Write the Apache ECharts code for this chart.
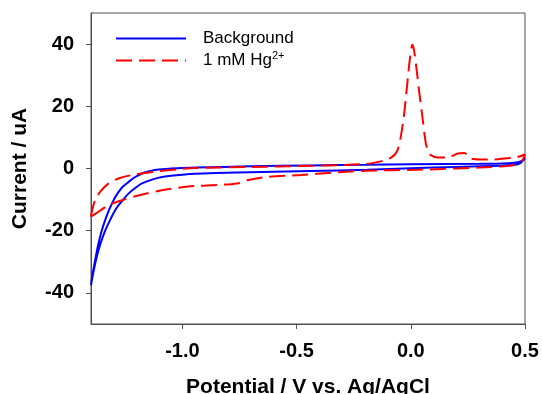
<!DOCTYPE html>
<html>
<head>
<meta charset="utf-8">
<script src="https://cdn.jsdelivr.net/npm/echarts@6/dist/echarts.min.js"></script>
<style>
  html, body { margin: 0; padding: 0; background: #fff; }
  #cv-chart { width: 542px; height: 394px; }
</style>
</head>
<body>
<div id="cv-chart"></div>
<script>
const BLUE = '#0000ff';
const RED = '#ff0000';
const AXIS_GREY = '#505050';
const FONT = '"Liberation Sans", Arial, sans-serif';

// potential (V) / current (uA)
// background: upper branch from 0.5 down to -1.4, then lower branch back
const bgPotential = [
  0.5, 0.49, 0.47, 0.43, 0.3, 0.0, -0.2, -0.44, -0.7, -0.94, -1.02, -1.104, -1.14, -1.177,
  -1.21, -1.235, -1.26, -1.279, -1.295, -1.308, -1.325, -1.34, -1.355, -1.37, -1.383, -1.393, -1.4,
  -1.39, -1.375, -1.36, -1.338, -1.316, -1.295, -1.279, -1.257, -1.235, -1.205, -1.177, -1.13,
  -1.089, -1.0, -0.943, -0.76, -0.44, -0.19, 0.0, 0.2, 0.4, 0.45, 0.48, 0.5
];
const bgCurrent = [
  3.3, 2.6, 2.0, 1.7, 1.5, 1.4, 1.2, 1.0, 0.7, 0.3, 0.1, -0.3, -0.8, -1.6,
  -2.9, -4.3, -5.8, -7.5, -9.3, -11.2, -14, -17, -20.5, -25, -30, -34, -37.5,
  -33.5, -28.5, -24.5, -20, -16.5, -13.5, -11.8, -9.8, -8.0, -6.2, -4.8, -3.5,
  -2.7, -2.0, -1.7, -1.3, -0.8, -0.4, 0.1, 0.5, 0.9, 1.1, 1.7, 3.3
];

// 1 mM Hg2+: anodic branch with the stripping peak, then back along the cathodic branch
const hgPotential = [
  -1.4, -1.393, -1.382, -1.36, -1.323, -1.28, -1.22, -1.13, -1.0, -0.94, -0.7, -0.48, -0.3,
  -0.19, -0.15, -0.117, -0.088, -0.07, -0.058, -0.044, -0.029, -0.014, -0.003, 0.007, 0.0145,
  0.026, 0.036, 0.051, 0.066, 0.077, 0.088, 0.117, 0.161, 0.205, 0.234, 0.263, 0.307, 0.36,
  0.408, 0.468, 0.5,
  0.49, 0.47, 0.43, 0.3, 0.2, 0.03, -0.19, -0.34, -0.48, -0.63, -0.716, -0.76, -0.85, -0.94,
  -1.0, -1.09, -1.19, -1.264, -1.323, -1.367, -1.4
];
const hgCurrent = [
  -15.5, -12.8, -10.2, -7.5, -4.8, -3.2, -2.1, -1.1, -0.1, 0.2, 0.5, 0.8, 1.1,
  1.5, 2.0, 2.6, 3.4, 4.5, 5.9, 10.1, 17.6, 28.3, 35.8, 39.8, 37.9,
  31.5, 25.1, 16.5, 8.0, 5.5, 4.3, 3.5, 3.5, 4.8, 5.0, 3.2, 2.9, 2.9,
  3.2, 3.7, 4.5,
  2.8, 1.6, 0.9, 0.3, 0.0, -0.4, -0.7, -1.3, -2.1, -2.7, -3.75, -4.8, -5.3, -5.6,
  -6.0, -7.0, -8.6, -10.2, -11.8, -13.9, -15.5
];

const xTicks = [-1.0, -0.5, 0.0, 0.5];
const yTicks = [-40, -20, 0, 20, 40];

const pairs = (xs, ys) => xs.map((x, i) => [x, ys[i]]);

const chartOptions = {
  animation: false,
  textStyle: { fontFamily: FONT },
  grid: {
    left: 91,
    right: 17,
    top: 13,
    bottom: 70,
    outerBoundsMode: 'none',
    show: true,
    borderColor: AXIS_GREY,
    borderWidth: 1,
  },
  legend: {
    orient: 'vertical',
    left: 115,
    top: 30,
    padding: 0,
    itemWidth: 70,
    itemHeight: 14,
    itemGap: 3,
    data: ['Background', 'Hg'],
    formatter: (name) => name === 'Hg' ? '1 mM Hg{sup|2+}' : name,
    // hide the round marker, keep only the line sample
    itemStyle: { opacity: 0 },
    textStyle: {
      fontSize: 17,
      color: '#000',
      padding: [0, 0, 0, 12],
      rich: {
        sup: { fontSize: 11, verticalAlign: 'bottom', padding: [0, 0, 10, 0], color: '#000' },
      },
    },
  },
  xAxis: {
    type: 'value',
    min: -1.4,
    max: 0.5,
    name: 'Potential / V vs. Ag/AgCl',
    nameLocation: 'middle',
    nameGap: 53,
    nameTextStyle: { fontSize: 21, fontWeight: 'bold', color: '#000' },
    axisLine: { onZero: false, lineStyle: { color: AXIS_GREY, width: 1 } },
    axisTick: { customValues: xTicks, length: 5, lineStyle: { color: AXIS_GREY } },
    axisLabel: {
      customValues: xTicks,
      margin: 17,
      fontSize: 20,
      fontWeight: 'bold',
      color: '#000',
      formatter: (v) => v.toFixed(1),
    },
    splitLine: { show: false },
  },
  yAxis: {
    type: 'value',
    min: -50,
    max: 50,
    name: 'Current / uA',
    nameLocation: 'middle',
    nameGap: 60,
    nameTextStyle: { fontSize: 21, fontWeight: 'bold', color: '#000' },
    axisLine: { show: true, onZero: false, lineStyle: { color: AXIS_GREY, width: 1 } },
    axisTick: { show: true, customValues: yTicks, length: 5, lineStyle: { color: AXIS_GREY } },
    axisLabel: {
      customValues: yTicks,
      margin: 17,
      fontSize: 20,
      fontWeight: 'bold',
      color: '#000',
    },
    splitLine: { show: false },
  },
  series: [
    {
      name: 'Background',
      type: 'line',
      symbol: 'none',
      smooth: 0.3,
      clip: true,
      lineStyle: { color: BLUE, width: 2 },
      itemStyle: { color: BLUE },
      data: pairs(bgPotential, bgCurrent),
    },
    {
      name: 'Hg',
      type: 'line',
      symbol: 'none',
      smooth: 0.3,
      clip: true,
      lineStyle: { color: RED, width: 2, type: [16, 7] },
      itemStyle: { color: RED },
      data: pairs(hgPotential, hgCurrent),
    },
  ],
};

const cvChart = echarts.init(document.getElementById('cv-chart'), null, { renderer: 'canvas' });
cvChart.setOption(chartOptions);
</script>
</body>
</html>
